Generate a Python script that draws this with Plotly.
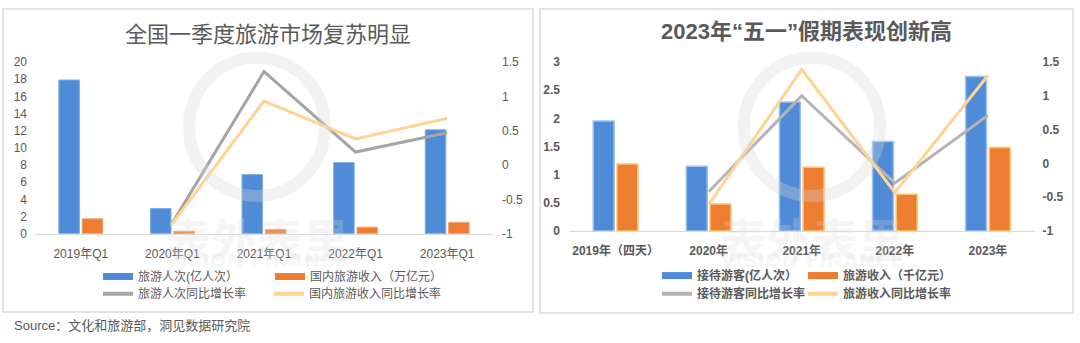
import plotly.graph_objects as go

# ---------------- data ----------------
cats_left = ["2019年Q1", "2020年Q1", "2021年Q1", "2022年Q1", "2023年Q1"]
visitors_left = [17.9, 2.95, 6.9, 8.3, 12.1]          # 旅游人次(亿人次)
revenue_left = [1.75, 0.29, 0.52, 0.78, 1.33]         # 国内旅游收入（万亿元）
visitors_yoy_left = [None, -0.84, 1.36, 0.19, 0.47]   # 旅游人次同比增长率
revenue_yoy_left = [None, -0.85, 0.93, 0.38, 0.68]    # 国内旅游收入同比增长率

cats_right = ["2019年（四天）", "2020年", "2021年", "2022年", "2023年"]
visitors_right = [1.95, 1.15, 2.29, 1.59, 2.74]       # 接待游客(亿人次)
revenue_right = [1.19, 0.48, 1.13, 0.65, 1.48]        # 旅游收入（千亿元）
visitors_yoy_right = [None, -0.42, 1.0, -0.29, 0.71]  # 接待游客同比增长率
revenue_yoy_right = [None, -0.61, 1.39, -0.43, 1.30]  # 旅游收入同比增长率

left_ticks = [0, 2, 4, 6, 8, 10, 12, 14, 16, 18, 20]
right_ticks_l = [0, 0.5, 1, 1.5, 2, 2.5, 3]
rate_ticks = [-1, -0.5, 0, 0.5, 1, 1.5]
rate_ticktext = ["-1", "-0.5", "0", "0.5", "1", "1.5"]

names_left = ["旅游人次(亿人次）", "国内旅游收入（万亿元）", "旅游人次同比增长率", "国内旅游收入同比增长率"]
names_right = ["接待游客(亿人次）", "旅游收入（千亿元）", "接待游客同比增长率", "旅游收入同比增长率"]

title_left = "全国一季度旅游市场复苏明显"
title_right = "2023年“五一”假期表现创新高"
source_text = "Source：文化和旅游部，洞见数据研究院"

# ---------------- style ----------------
W, H = 1080, 343
BLUE = "#4F8BD6"
ORANGE = "#ED7D31"
GRAY = "#A5A5A5"
YELLOW = "#FFD392"
TXT = "#595959"
FONT = "Liberation Sans, Noto Sans CJK SC, sans-serif"
CJK = "Noto Sans CJK SC, sans-serif"


def px(x):
    return x / W


def py(y):
    return 1 - y / H


fig = go.Figure()

# left panel
fig.add_trace(go.Bar(x=cats_left, y=visitors_left, marker=dict(color=BLUE, line=dict(color="#7FAEE6", width=1)),
                     xaxis="x", yaxis="y", showlegend=False))
fig.add_trace(go.Bar(x=cats_left, y=revenue_left, marker=dict(color=ORANGE, line=dict(color="#F4A46E", width=1)),
                     xaxis="x", yaxis="y", showlegend=False))
fig.add_trace(go.Scatter(x=cats_left, y=visitors_yoy_left, mode="lines", line=dict(color=GRAY, width=3),
                         xaxis="x", yaxis="y2", showlegend=False))
fig.add_trace(go.Scatter(x=cats_left, y=revenue_yoy_left, mode="lines", line=dict(color=YELLOW, width=3),
                         xaxis="x", yaxis="y2", showlegend=False))

# right panel
fig.add_trace(go.Bar(x=cats_right, y=visitors_right, marker=dict(color=BLUE, line=dict(color="#9CC2F0", width=1.5)),
                     xaxis="x2", yaxis="y3", showlegend=False))
fig.add_trace(go.Bar(x=cats_right, y=revenue_right, marker=dict(color=ORANGE, line=dict(color="#FFC46B", width=1.5)),
                     xaxis="x2", yaxis="y3", showlegend=False))
fig.add_trace(go.Scatter(x=cats_right, y=visitors_yoy_right, mode="lines", line=dict(color="#B4B4B4", width=3),
                         xaxis="x2", yaxis="y4", showlegend=False))
fig.add_trace(go.Scatter(x=cats_right, y=revenue_yoy_right, mode="lines", line=dict(color=YELLOW, width=3),
                         xaxis="x2", yaxis="y4", showlegend=False))

# legend proxies (wide swatches)
legend_specs = [
    (names_left[0], BLUE, 7, "legend", 98, 281, False),
    (names_left[1], ORANGE, 7, "legend2", 270, 281, False),
    (names_left[2], GRAY, 4, "legend3", 98, 299, False),
    (names_left[3], YELLOW, 4, "legend4", 269, 299, False),
    (names_right[0], BLUE, 7, "legend5", 657, 280, True),
    (names_right[1], ORANGE, 7, "legend6", 803, 280, True),
    (names_right[2], "#B4B4B4", 4, "legend7", 657, 299, True),
    (names_right[3], YELLOW, 4, "legend8", 803, 299, True),
]
legend_layout = {}
for name, color, width, lg, lx, ly, bold in legend_specs:
    fig.add_trace(go.Scatter(x=[None], y=[None], mode="lines", name=name,
                             line=dict(color=color, width=width),
                             xaxis="x", yaxis="y", legend=lg, showlegend=True))
    legend_layout[lg] = dict(x=px(lx), y=py(ly), xanchor="left", yanchor="middle",
                             bgcolor="rgba(0,0,0,0)", borderwidth=0,
                             font=dict(family=FONT, size=12, color=TXT, weight=("bold" if bold else "normal")),
                             itemclick=False, itemdoubleclick=False, tracegroupgap=0)

tickfont_l = dict(family=FONT, size=12, color=TXT)
tickfont_r = dict(family=FONT, size=12, color=TXT, weight="bold")

yl_dom = [py(236.5), py(57.3)]
yr_dom = [py(233.5), py(57.3)]

fig.update_layout(
    width=W, height=H,
    margin=dict(l=0, r=0, t=0, b=0),
    paper_bgcolor="white", plot_bgcolor="rgba(0,0,0,0)",
    barmode="group", bargap=0.49, bargroupgap=0.12,
    font=dict(family=FONT, color=TXT),
    xaxis=dict(domain=[px(35), px(493)], anchor="y", type="category", range=[-0.5, 4.5],
               showline=True, linecolor="#D9D9D9", linewidth=1, ticks="", tickfont=tickfont_l,
               ticklabelstandoff=9, fixedrange=True),
    yaxis=dict(domain=yl_dom, anchor="x", range=[0, 20], tickvals=left_ticks, showgrid=False,
               zeroline=False, showline=False, tickfont=tickfont_l, ticklabelstandoff=7),
    yaxis2=dict(domain=yl_dom, anchor="x", overlaying="y", side="right", range=[-1, 1.5],
                tickvals=rate_ticks, ticktext=rate_ticktext, showgrid=False, zeroline=False,
                showline=False, tickfont=tickfont_l, ticklabelstandoff=8),
    xaxis2=dict(domain=[px(569), px(1034.5)], anchor="y3", type="category", range=[-0.5, 4.5],
                showline=True, linecolor="#D9D9D9", linewidth=1, ticks="", tickfont=tickfont_r,
                ticklabelstandoff=9),
    yaxis3=dict(domain=yr_dom, anchor="x2", range=[0, 3], tickvals=right_ticks_l, showgrid=False,
                zeroline=False, showline=False, tickfont=tickfont_r, ticklabelstandoff=8),
    yaxis4=dict(domain=yr_dom, anchor="x2", overlaying="y3", side="right", range=[-1, 1.5],
                tickvals=rate_ticks, ticktext=rate_ticktext, showgrid=False, zeroline=False,
                showline=False, tickfont=tickfont_r, ticklabelstandoff=7),
    **legend_layout,
)

# panel borders
for x0, x1, y1 in [(3, 533, 318), (540, 1073, 319)]:
    fig.add_shape(type="rect", xref="paper", yref="paper", x0=px(x0), x1=px(x1), y0=py(y1), y1=py(2),
                  line=dict(color="#DCDCDC", width=1.5), fillcolor="rgba(0,0,0,0)", layer="below")

# watermark (faint, light overlay)
WM_RING = "rgba(215,215,215,0.32)"
WM = "rgba(215,215,215,0.26)"
WM2 = "rgba(215,215,215,0.2)"
for cx, cy in [(257, 125), (812, 125)]:
    fig.add_shape(type="circle", xref="paper", yref="paper", x0=px(cx - 68), x1=px(cx + 68),
                  y0=py(cy + 72), y1=py(cy - 72), line=dict(color=WM_RING, width=12),
                  layer="above")
    fig.add_annotation(text="表外表里", x=px(cx), y=py(240), xref="paper", yref="paper", showarrow=False,
                       xanchor="center", yanchor="middle",
                       font=dict(family=CJK, size=46, color=WM, weight="bold"))
    fig.add_annotation(text="VISION FINANCE", x=px(cx), y=py(264), xref="paper", yref="paper", showarrow=False,
                       xanchor="center", yanchor="middle",
                       font=dict(family="DejaVu Sans", size=20, color=WM2, weight="bold"))

# titles
fig.add_annotation(text=title_left, x=px(268), y=py(26), xref="paper", yref="paper", showarrow=False,
                   font=dict(family=CJK, size=22, color=TXT), xanchor="center", yanchor="middle")
fig.add_annotation(text=title_right, x=px(806), y=py(26), xref="paper", yref="paper", showarrow=False,
                   font=dict(family=FONT, size=22, color=TXT, weight="bold"), xanchor="center", yanchor="middle")
fig.add_annotation(text=source_text, x=px(12), y=py(332), xref="paper", yref="paper", showarrow=False,
                   font=dict(family=FONT, size=13, color=TXT), xanchor="left", yanchor="middle")

fig.write_html("out.html", config={"displayModeBar": False})
